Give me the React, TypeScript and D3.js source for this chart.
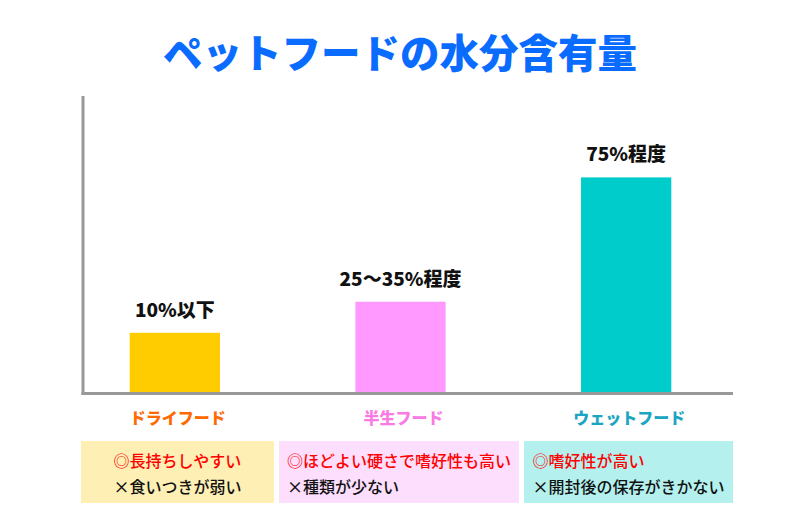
import React, { useEffect, useRef } from "react";
import * as d3 from "d3";

const title = "ペットフードの水分含有量";
const categories = ["ドライフード", "半生フード", "ウェットフード"];
// bar heights on an implied 0–100 scale
const barValues = [20, 30.5, 72.5];
const barLabels = ["10%以下", "25〜35%程度", "75%程度"];
const barColors = ["#ffcc00", "#ff99ff", "#00cccc"];
const categoryColors = ["#ff6a00", "#f97be3", "#1ba5c2"];
const boxColors = ["#fef0b5", "#fddefd", "#b3f0ee"];
const prosText = ["◎長持ちしやすい", "◎ほどよい硬さで嗜好性も高い", "◎嗜好性が高い"];
const consText = ["×食いつきが弱い", "×種類が少ない", "×開封後の保存がきかない"];
const boxWidths = [193, 240, 209];

const W = 800;
const H = 530;
const FONT = "'Noto Sans CJK JP', 'Noto Sans', sans-serif";

export default function App() {
  const ref = useRef<SVGSVGElement>(null);

  useEffect(() => {
    const svg = d3.select(ref.current);
    svg.selectAll("*").remove();

    const plot = { left: 83, right: 733, top: 96, bottom: 392 };

    const x = d3
      .scaleBand<string>()
      .domain(categories)
      .range([62, 739])
      .paddingInner(0.6)
      .paddingOuter(0.3);
    const y = d3.scaleLinear().domain([0, 100]).range([plot.bottom, plot.top]);

    // title
    svg
      .append("text")
      .attr("x", W / 2)
      .attr("y", 50)
      .attr("text-anchor", "middle")
      .attr("dominant-baseline", "central")
      .attr("font-family", FONT)
      .attr("font-weight", 900)
      .attr("font-size", 39.5)
      .attr("fill", "#0a6cff")
      .text(title);

    // bars
    svg
      .selectAll("rect.bar")
      .data(categories)
      .join("rect")
      .attr("class", "bar")
      .attr("x", (d) => x(d)!)
      .attr("width", x.bandwidth())
      .attr("y", (d, i) => y(barValues[i]))
      .attr("height", (d, i) => y(0) - y(barValues[i]))
      .attr("fill", (d, i) => barColors[i]);

    // bar labels
    svg
      .selectAll("text.blabel")
      .data(categories)
      .join("text")
      .attr("class", "blabel")
      .attr("x", (d) => x(d)! + x.bandwidth() / 2)
      .attr("y", (d, i) => y(barValues[i]) - 16)
      .attr("text-anchor", "middle")
      .attr("font-family", FONT)
      .attr("font-weight", 900)
      .attr("font-size", 19)
      .attr("fill", "#111")
      .text((d, i) => barLabels[i]);

    // axes
    svg
      .append("line")
      .attr("x1", plot.left)
      .attr("x2", plot.left)
      .attr("y1", plot.top)
      .attr("y2", plot.bottom + 3)
      .attr("stroke", "#999")
      .attr("stroke-width", 3);
    svg
      .append("line")
      .attr("x1", plot.left - 1.5)
      .attr("x2", plot.right)
      .attr("y1", plot.bottom + 1.5)
      .attr("y2", plot.bottom + 1.5)
      .attr("stroke", "#999")
      .attr("stroke-width", 3);

    // category labels
    svg
      .selectAll("text.cat")
      .data(categories)
      .join("text")
      .attr("class", "cat")
      .attr("x", (d) => x(d)! + x.bandwidth() / 2 + 3)
      .attr("y", 417)
      .attr("text-anchor", "middle")
      .attr("dominant-baseline", "central")
      .attr("font-family", FONT)
      .attr("font-weight", 900)
      .attr("font-size", 16)
      .attr("fill", (d, i) => categoryColors[i])
      .text((d) => d);

    // boxes
    let bx = 81;
    const gap = 5;
    categories.forEach((c, i) => {
      const w = boxWidths[i];
      const g = svg.append("g");
      g.append("rect")
        .attr("x", bx)
        .attr("y", 441)
        .attr("width", w)
        .attr("height", 62)
        .attr("fill", boxColors[i]);
      const t1 = g
        .append("text")
        .attr("y", 460)
        .attr("dominant-baseline", "central")
        .attr("font-family", FONT)
        .attr("font-weight", 500)
        .attr("font-size", 16)
        .attr("fill", "#ff0000")
        .text(prosText[i]);
      const t2 = g
        .append("text")
        .attr("y", 486)
        .attr("dominant-baseline", "central")
        .attr("font-family", FONT)
        .attr("font-weight", 500)
        .attr("font-size", 16)
        .attr("fill", "#111")
        .text(consText[i]);
      const w1 = (t1.node() as SVGTextElement).getComputedTextLength();
      const w2 = (t2.node() as SVGTextElement).getComputedTextLength();
      const bw = Math.max(w1, w2);
      const left = bx + w / 2 - bw / 2;
      t1.attr("x", left);
      t2.attr("x", left);
      bx += w + gap;
    });
  }, []);

  return (
    <svg
      ref={ref}
      width={W}
      height={H}
      style={{ position: "absolute", left: 0, top: 0, background: "#fff" }}
    />
  );
}
